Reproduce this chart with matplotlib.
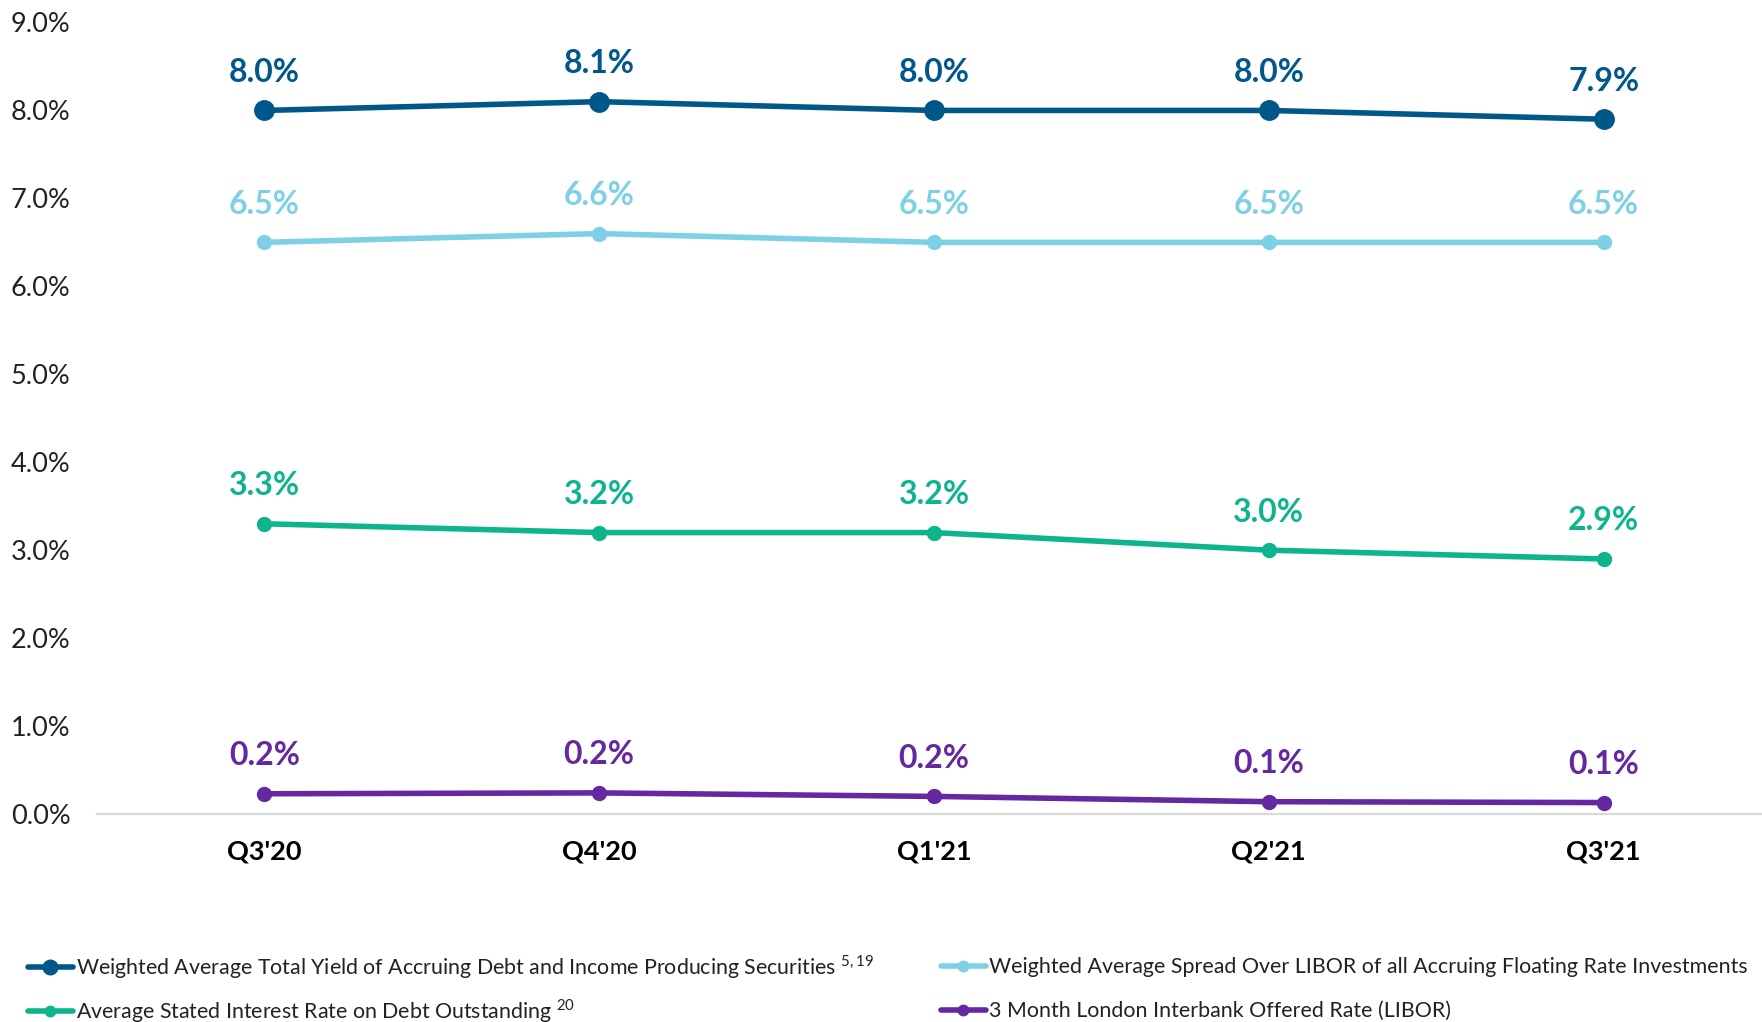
import matplotlib
matplotlib.use("Agg")
import matplotlib.pyplot as plt
from matplotlib import font_manager

names = {f.name for f in font_manager.fontManager.ttflist}
base = "Lato" if "Lato" in names else "Roboto"
plt.rcParams['font.family'] = [base, 'DejaVu Sans']
plt.rcParams['mathtext.fontset'] = 'custom'
plt.rcParams['mathtext.rm'] = base

quarters = ["Q3'20", "Q4'20", "Q1'21", "Q2'21", "Q3'21"]
total_yield = [8.0, 8.1, 8.0, 8.0, 7.9]
spread_libor = [6.5, 6.6, 6.5, 6.5, 6.5]
debt_rate = [3.3, 3.2, 3.2, 3.0, 2.9]
libor = [0.23, 0.24, 0.20, 0.14, 0.13]

series_names = [
    "Weighted Average Total Yield of Accruing Debt and Income Producing Securities $^{\\mathregular{5,19}}$",
    "Weighted Average Spread Over LIBOR of all Accruing Floating Rate Investments",
    "Average Stated Interest Rate on Debt Outstanding $^{\\mathregular{20}}$",
    "3 Month London Interbank Offered Rate (LIBOR)",
]
colors = ["#00578A", "#7DD0E6", "#0DB48E", "#6428A0"]
marker_sizes = [14, 10, 10, 10]
all_series = [total_yield, spread_libor, debt_rate, libor]

W, H = 1762, 1022
fig = plt.figure(figsize=(W / 100, H / 100), dpi=100)
ax = fig.add_axes([97 / W, (H - 814) / H, (1771 - 97) / W, (814 - 22.5) / H])

x = list(range(len(quarters)))
lines = []
for vals, c, ms, name in zip(all_series, colors, marker_sizes, series_names):
    ln, = ax.plot(x, vals, color=c, lw=4.0, marker='o', ms=ms, label=name,
                  solid_capstyle='round', zorder=3)
    lines.append(ln)
    for xi, v in zip(x, vals):
        ax.annotate(f"{v:.1f}%", (xi, v), xytext=(0, 38), textcoords='offset pixels',
                    ha='center', va='center', fontsize=23, fontweight='bold', color=c)

ax.set_xlim(-0.5, 4.5)
ax.set_ylim(0, 9)
ax.set_yticks([i for i in range(10)])
ax.set_yticklabels([f"{i:.1f}%" for i in range(10)], fontsize=19.5, color='#222222')
ax.set_xticks(x)
ax.set_xticklabels(quarters, fontsize=19.5, fontweight='bold', color='black')
ax.tick_params(axis='both', length=0)
ax.tick_params(axis='y', pad=19)
ax.tick_params(axis='x', pad=18)
for s in ['top', 'right', 'left']:
    ax.spines[s].set_visible(False)
ax.spines['bottom'].set_color('#d9d9d9')
ax.spines['bottom'].set_linewidth(1.6)

# fit legend font so the long right-column label fits the space it has in the reference
renderer = fig.canvas.get_renderer()
probe = fig.text(0, 0, series_names[1], fontsize=18)
wpx = probe.get_window_extent(renderer).width
probe.remove()
leg_fs = 18 * 755 / wpx

# (handle index, left x px, row center y px)
slots = [(0, 28, 967), (1, 941, 967), (2, 28, 1011), (3, 941, 1011)]
for idx, xp, yp in slots:
    h = lines[idx]
    fig.legend(handles=[h], labels=[h.get_label()],
               loc='center left', bbox_to_anchor=(xp / W, (H - yp) / H),
               frameon=False, fontsize=leg_fs, handlelength=2.1, handletextpad=0.15,
               borderaxespad=0, borderpad=0, markerscale=0.75, labelcolor='#222222')

fig.savefig("out.png", dpi=100)
